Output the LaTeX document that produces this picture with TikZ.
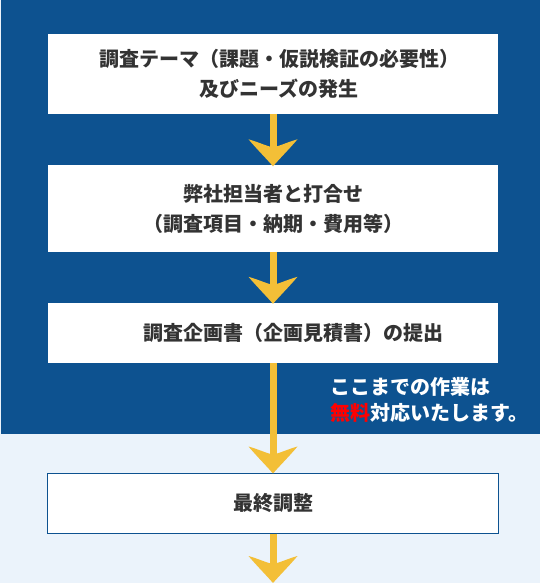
\documentclass[tikz,border=0pt]{standalone}
\usepackage{fontspec}
\newfontfamily\cjk{Noto Sans CJK JP}
\definecolor{navy}{HTML}{0D5290}
\definecolor{arrowc}{HTML}{F3BF37}
\definecolor{lightbg}{HTML}{EBF3FB}
\definecolor{textc}{HTML}{333333}
\definecolor{redc}{HTML}{FF0000}
\begin{document}
\begin{tikzpicture}[x=1pt,y=-1pt,
  box/.style={fill=white, minimum width=450pt, inner sep=0pt, align=center,
    font=\cjk\bfseries\fontsize{20pt}{30pt}\selectfont, text=textc},
  note/.style={inner sep=0pt, align=left, text=white,
    font=\cjk\bfseries\fontsize{20pt}{26.5pt}\selectfont},
  shaft/.style={draw=arrowc, line width=7pt, shorten >=10pt},
  ahead/.pic={\fill[arrowc] (-24.5,-27) .. controls (-16,-17) and (-6,-7) .. (0,0)
     .. controls (6,-7) and (16,-17) .. (24.5,-27)
     .. controls (14,-24) and (6,-20) .. (0,-19)
     .. controls (-6,-20) and (-14,-24) .. cycle;}]
\useasboundingbox (0,0) rectangle (540,583);
\fill[lightbg] (0,0) rectangle (540,583);
\fill[navy] (1,0) rectangle (540,434);
\node[box, minimum height=80pt] (b1) at (273,74)
  {\hspace*{12pt}調査テーマ（課題・仮説検証の必要性）\\\hspace*{12pt}及びニーズの発生};
\node[box, minimum height=87pt] (b2) at (273,208.5)
  {弊社担当者と打合せ\\（調査項目・納期・費用等）};
\node[box, minimum height=60pt] (b3) at (273,333)
  {\hspace*{41pt}調査企画書（企画見積書）の提出};
\node[box, minimum height=60pt, draw=navy, line width=1pt, minimum width=451pt] (b4) at (273,503)
  {最終調整};
\coordinate (end) at (273,583);
\node[note, anchor=west] (note) at (330,400)
  {ここまでの作業は\\\textcolor{redc}{無料}対応いたします。};
\draw[shaft] (b1.south) -- ([yshift=-1pt]b2.north);
\draw[shaft] (b2.south) -- ([yshift=-1pt]b3.north);
\draw[shaft] (b3.south) -- ([yshift=-1pt]b4.north);
\draw[shaft] (b4.south) -- (end);
\pic at ([yshift=-1.5pt]b2.north) {ahead};
\pic at ([yshift=-1pt]b3.north) {ahead};
\pic at ([yshift=-1pt]b4.north) {ahead};
\pic at (end) {ahead};
\end{tikzpicture}
\end{document}
